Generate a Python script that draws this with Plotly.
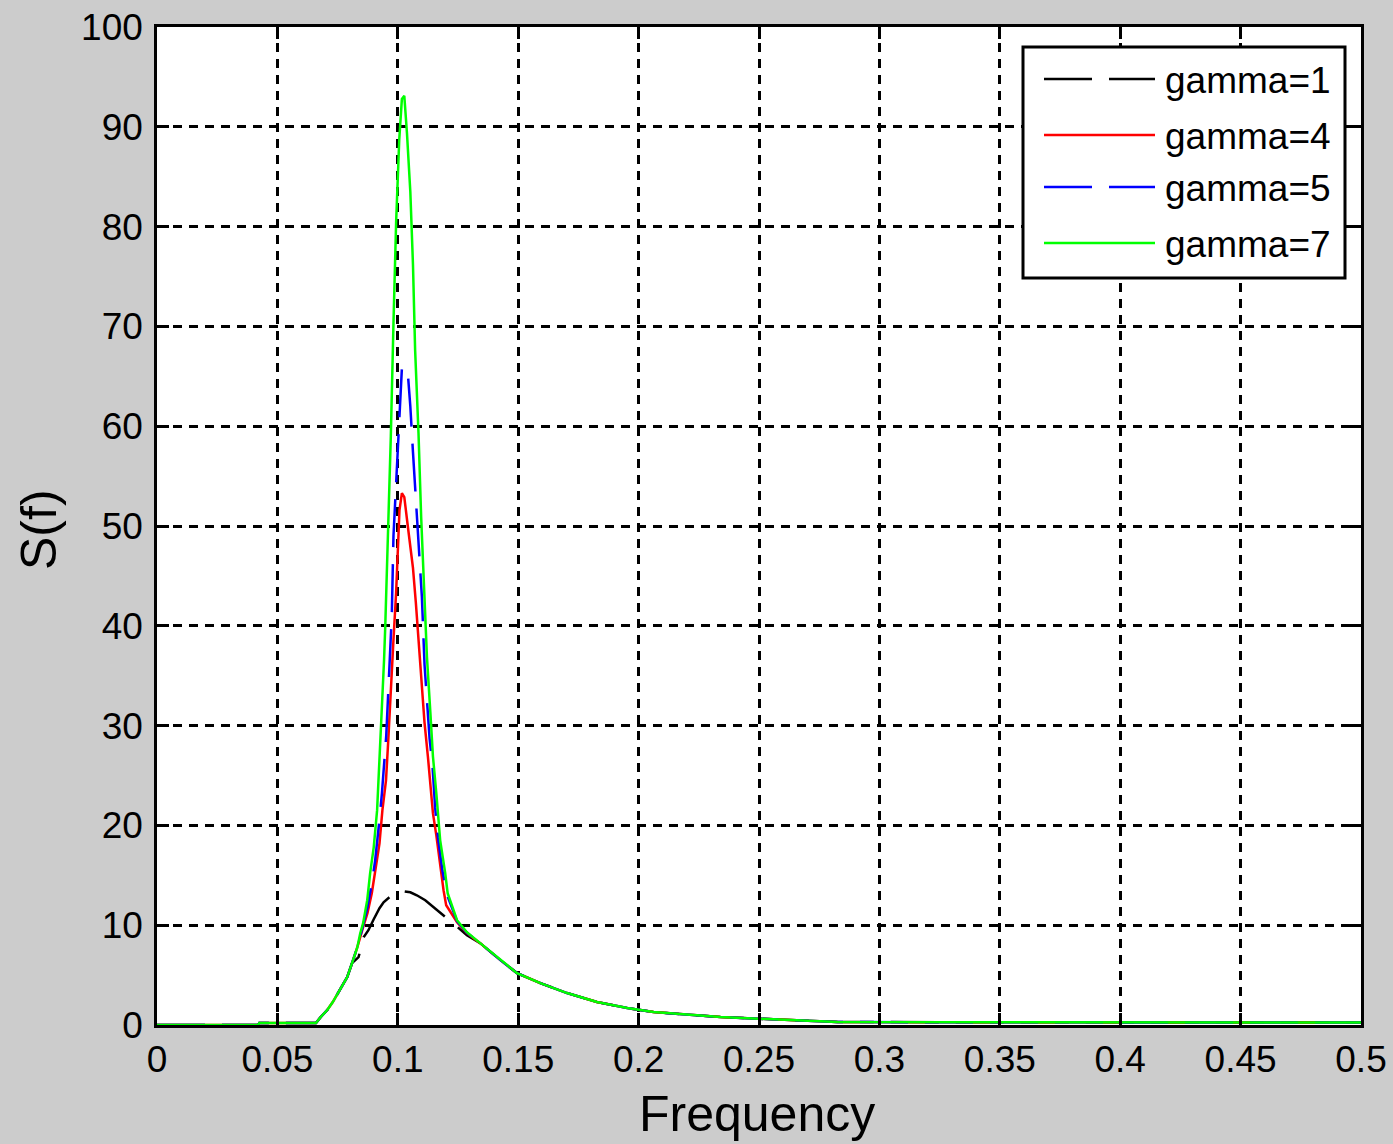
import plotly.graph_objects as go

# ---------------- data ----------------
# shared low-frequency foot and high-frequency tail
foot_f = [0.0, 0.042, 0.0425, 0.066, 0.068, 0.0707, 0.073, 0.076, 0.079, 0.081]
foot_s = [0.0, 0.0, 0.2, 0.2, 0.8, 1.5, 2.3, 3.5, 4.8, 6.2]

tail_f = [0.1342, 0.1426, 0.1495, 0.1592, 0.1703, 0.1827, 0.1953, 0.2062,
          0.2182, 0.2340, 0.2631, 0.2826, 0.35, 0.42, 0.5]
tail_s = [8.2, 6.5, 5.2, 4.2, 3.2, 2.3, 1.7, 1.3,
          1.1, 0.8, 0.5, 0.3, 0.27, 0.25, 0.25]

# gamma = 1 (black dashed)
g1_f = [0.0837, 0.0858, 0.0878, 0.0900, 0.0924, 0.0941, 0.0975, 0.0996,
        0.1025, 0.1052, 0.1079, 0.1114, 0.1150, 0.1190, 0.1218, 0.1246, 0.1287]
g1_s = [6.8, 8.8, 9.5, 10.6, 11.7, 12.3, 13.0, 13.3,
        13.4, 13.3, 13.0, 12.5, 11.8, 11.0, 10.4, 9.85, 9.0]

# gamma = 4 (red)
g4_f = [0.0832, 0.0856, 0.0874, 0.0892, 0.0906, 0.0924, 0.0936, 0.0951, 0.0961,
        0.0973, 0.0982, 0.0993, 0.1007, 0.1017, 0.1027, 0.1042, 0.1063, 0.1075,
        0.1086, 0.1097, 0.1111, 0.1125, 0.1138, 0.1146, 0.1160, 0.1169, 0.1179,
        0.1190, 0.1201, 0.1246, 0.1287]
g4_s = [7.8, 9.8, 11.2, 13.2, 15.2, 18.2, 21.5, 24.5, 28.8,
        34.9, 38.6, 43.3, 51.6, 53.3, 52.9, 49.9, 45.8, 42.3,
        38.3, 34.3, 30.3, 26.9, 23.7, 21.2, 19.0, 17.2, 15.2,
        13.5, 12.0, 10.3, 9.2]

# gamma = 5 (blue dashed)
g5_f = [0.0832, 0.0856, 0.0874, 0.0892, 0.0906, 0.0924, 0.0934, 0.0952, 0.0964,
        0.0975, 0.0982, 0.0996, 0.1009, 0.1017, 0.1040, 0.1052, 0.1063, 0.1074,
        0.1086, 0.1100, 0.1111, 0.1121, 0.1132, 0.1144, 0.1155, 0.1167, 0.1185,
        0.1205, 0.1246, 0.1287]
g5_s = [7.8, 10.0, 11.8, 14.2, 16.5, 20.6, 23.2, 29.0, 35.2,
        41.0, 49.0, 56.0, 62.2, 65.8, 65.8, 62.0, 57.4, 53.3,
        48.6, 42.9, 36.1, 32.3, 28.7, 26.0, 21.8, 18.8, 15.5,
        13.0, 10.4, 9.25]

# gamma = 7 (green)
g7_f = [0.0832, 0.0844, 0.0856, 0.0873, 0.0885, 0.0900, 0.0914, 0.0923, 0.0935,
        0.0943, 0.0948, 0.0959, 0.0971, 0.0982, 0.0993, 0.1006, 0.1017, 0.1027,
        0.1038, 0.1052, 0.1063, 0.1072, 0.1086, 0.1097, 0.1110, 0.1121, 0.1135,
        0.1146, 0.1160, 0.1176, 0.1197, 0.1207, 0.1246, 0.1287]
g7_s = [7.8, 9.2, 10.2, 12.5, 15.2, 17.8, 21.5, 26.2, 31.9,
        36.6, 40.0, 48.9, 59.0, 70.3, 80.4, 88.7, 92.8, 93.1,
        89.4, 83.5, 76.2, 67.6, 59.3, 50.9, 43.3, 36.9, 31.4,
        26.9, 23.2, 18.5, 15.2, 13.2, 10.5, 9.3]

names = ["gamma=1", "gamma=4", "gamma=5", "gamma=7"]
x_ticks = [0, 0.05, 0.1, 0.15, 0.2, 0.25, 0.3, 0.35, 0.4, 0.45, 0.5]
y_ticks = [0, 10, 20, 30, 40, 50, 60, 70, 80, 90, 100]

# ---------------- layout geometry (pixels) ----------------
W, H = 1393, 1144
L, R, T, B = 157, 32, 27, 119
PW, PH = W - L - R, H - T - B


def px(xp):
    return (xp - L) / PW


def py(yp):
    return (H - B - yp) / PH


colors = ["#000000", "#ff0000", "#0000ff", "#00ff00"]
dashes = ["48px,17px", "solid", "48px,17px", "solid"]
series = [
    (foot_f + g1_f + tail_f, foot_s + g1_s + tail_s),
    (foot_f + g4_f + tail_f, foot_s + g4_s + tail_s),
    (foot_f + g5_f + tail_f, foot_s + g5_s + tail_s),
    (foot_f + g7_f + tail_f, foot_s + g7_s + tail_s),
]

fig = go.Figure()
for (fx, fy), nm, col, dash in zip(series, names, colors, dashes):
    fig.add_trace(go.Scatter(x=fx, y=fy, mode="lines", name=nm, showlegend=False,
                             line=dict(color=col, width=2.5, dash=dash)))

FONT = "Liberation Sans, Arial, sans-serif"
axis_common = dict(
    showline=True, linecolor="black", linewidth=2.5, mirror="ticks",
    ticks="inside", ticklen=12, tickwidth=2.5, tickcolor="black",
    showgrid=True, gridcolor="black", gridwidth=2.5, griddash="9px,7px",
    zeroline=False, automargin=False,
    tickfont=dict(family=FONT, size=37, color="black"),
)

fig.update_xaxes(range=[0, 0.5], tickvals=x_ticks,
                 ticktext=[("%g" % v) for v in x_ticks],
                 ticklabelstandoff=0, **axis_common)
fig.update_yaxes(range=[0, 100], tickvals=y_ticks,
                 ticklabelstandoff=4, **axis_common)

# axis titles
annotations = [
    dict(text="Frequency", x=px(757), y=py(1144), xref="paper", yref="paper",
         xanchor="center", yanchor="bottom", showarrow=False,
         font=dict(family=FONT, size=50, color="black")),
    dict(text="S(f)", x=px(39), y=py(530), xref="paper", yref="paper",
         xanchor="center", yanchor="middle", showarrow=False, textangle=-90,
         font=dict(family=FONT, size=50, color="black")),
]

# legend drawn as a boxed key
shapes = [dict(type="rect", xref="paper", yref="paper",
               x0=px(1023), x1=px(1345), y0=py(278), y1=py(47),
               fillcolor="white", line=dict(color="black", width=3), layer="above")]
row_y = [79, 135, 187, 243]
for nm, col, dash, ry in zip(names, colors, dashes, row_y):
    shapes.append(dict(type="line", xref="paper", yref="paper",
                       x0=px(1044), x1=px(1155), y0=py(ry), y1=py(ry),
                       line=dict(color=col, width=2.5, dash=dash), layer="above"))
    annotations.append(dict(text=nm, x=px(1163), y=py(ry + 1), xref="paper", yref="paper",
                            xanchor="left", yanchor="middle", showarrow=False,
                            font=dict(family=FONT, size=37, color="black")))

fig.update_layout(
    width=W, height=H,
    margin=dict(l=L, r=R, t=T, b=B, autoexpand=False),
    paper_bgcolor="#cccccc", plot_bgcolor="white",
    showlegend=False,
    shapes=shapes, annotations=annotations,
)

fig.write_html("out.html")
